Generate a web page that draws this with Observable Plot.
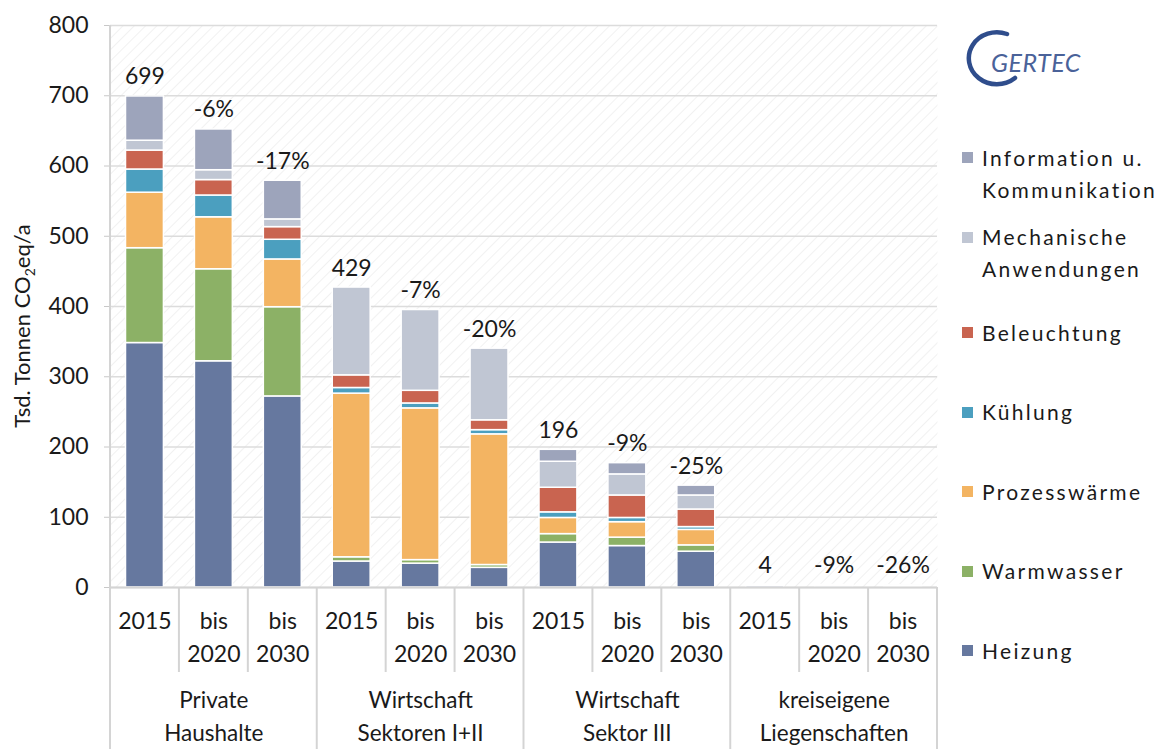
<!DOCTYPE html>
<html>
<head>
<meta charset="utf-8">
<script src="https://cdn.jsdelivr.net/npm/d3@7"></script>
<script src="https://cdn.jsdelivr.net/npm/@observablehq/plot@0.6"></script>
<style>
  body { margin: 0; background: #fff; font-family: Lato, "Noto Sans", sans-serif; color: #1a1a1a; }
  #wrap { position: relative; width: 1170px; height: 749px; overflow: hidden; }
  #legend { position: absolute; left: 962px; top: 134px; }
  .cell { height: 79.5px; display: flex; align-items: center; }
  .item { position: relative; padding-left: 20px; font-size: 21px; line-height: 32px; letter-spacing: 2.3px; white-space: pre-line; }
  .sw { position: absolute; left: 0; top: 10.5px; width: 11px; height: 11px; }
  #logo { position: absolute; left: 955px; top: 22px; }
</style>
</head>
<body>
<div id="wrap"></div>
<script>
// ---- data ----
const groups = ["Private\nHaushalte", "Wirtschaft\nSektoren I+II", "Wirtschaft\nSektor III", "kreiseigene\nLiegenschaften"];
const scenarios = ["2015", "bis\n2020", "bis\n2030"];
const seriesNames = ["Heizung", "Warmwasser", "Prozesswärme", "Kühlung", "Beleuchtung", "Mechanische Anwendungen", "Information u. Kommunikation"];
const legendLabels = ["Information u.\nKommunikation", "Mechanische\nAnwendungen", "Beleuchtung", "Kühlung", "Prozesswärme", "Warmwasser", "Heizung"];
const colors = ["#66789f", "#8cb166", "#f3b462", "#4b9fbf", "#c96450", "#c0c6d3", "#9da4bb"];

const heizung       = [348, 322, 272,  37,  34,  28, 64, 59, 51, 2.4, 2.2, 1.8];
const warmwasser    = [135, 131, 127,   6,   5,   4, 12, 12,  9, 0.3, 0.3, 0.2];
const prozesswaerme = [ 79,  74,  68, 233, 216, 186, 23, 22, 22, 0.1, 0.1, 0.1];
const kuehlung      = [ 33,  31,  28,   8,   7,   6,  8,  6,  4, 0.1, 0.1, 0.1];
const beleuchtung   = [ 27,  22,  18,  18,  18,  14, 35, 32, 25, 0.5, 0.4, 0.4];
const mechanisch    = [ 14,  14,  11, 125, 115, 102, 37, 30, 20, 0.3, 0.3, 0.2];
const information   = [ 63,  58,  55,   0,   0,   0, 17, 16, 14, 0.3, 0.2, 0.2];
const barLabels = ["699", "-6%", "-17%", "429", "-7%", "-20%", "196", "-9%", "-25%", "4", "-9%", "-26%"];
const yTicks = [0, 100, 200, 300, 400, 500, 600, 700, 800];

// ---- derived tables ----
const seriesValues = [heizung, warmwasser, prozesswaerme, kuehlung, beleuchtung, mechanisch, information];
const keys = [];
groups.forEach(g => scenarios.forEach(s => keys.push(g + "|" + s)));
const rows = [];
keys.forEach((k, i) => seriesValues.forEach((arr, j) => rows.push({key: k, series: seriesNames[j], value: arr[i]})));
const totals = keys.map((k, i) => ({key: k, total: d3.sum(seriesValues, arr => arr[i]), label: barLabels[i]}));
const scenRows = keys.map(k => ({key: k, lab: k.split("|")[1]}));
const groupRows = groups.map((g, i) => ({key: keys[i * 3 + 1], lab: g}));

const ink = "#1a1a1a";
const chart = Plot.plot({
  width: 1170, height: 749,
  marginTop: 25, marginBottom: 162, marginLeft: 110, marginRight: 233,
  style: {fontFamily: "Lato, 'Noto Sans', sans-serif", fontSize: "23px", color: ink, background: "transparent", overflow: "visible"},
  x: {type: "band", domain: keys, paddingInner: 0.45, paddingOuter: 0.225, round: false, axis: null},
  y: {domain: [0, 800], axis: null},
  color: {domain: seriesNames, range: colors},
  marks: [
    Plot.frame({fill: "url(#hatch)", stroke: null}),
    Plot.gridY(yTicks, {stroke: "#dcdcdc", strokeOpacity: 1, strokeWidth: 1.3}),
    Plot.barY(rows, {x: "key", y: "value", fill: "series", stroke: "white", strokeWidth: 1.5}),
    Plot.ruleY([0], {stroke: "#d4d4d4", strokeWidth: 2}),
    Plot.text(totals, {x: "key", y: "total", text: "label", dy: -12, lineAnchor: "bottom", fontSize: 23, fill: ink}),
    Plot.axisY(yTicks, {tickSize: 6, tickPadding: 16, fontSize: 23, stroke: "#c8c8c8", fill: ink, label: null}),
    Plot.text(scenRows, {x: "key", y: d => 0, text: "lab", lineAnchor: "top", dy: 19, lineHeight: 1.4, fontSize: 23, fill: ink}),
    Plot.text(groupRows, {x: "key", y: d => 0, text: "lab", lineAnchor: "top", dy: 97, lineHeight: 1.48, fontSize: 22.5, fill: ink, letterSpacing: "0.8px"})
  ]
});

// ---- decorations tied to the scales ----
const svg = d3.select(chart);
const pat = svg.insert("defs", ":first-child").append("pattern")
  .attr("id", "hatch").attr("patternUnits", "userSpaceOnUse")
  .attr("width", 8).attr("height", 8).attr("patternTransform", "rotate(45)");
pat.append("rect").attr("width", 8).attr("height", 8).attr("fill", "#ffffff");
pat.append("line").attr("x1", 0).attr("y1", 0).attr("x2", 0).attr("y2", 8).attr("stroke", "#f1f1f1").attr("stroke-width", 2);

const xs = chart.scale("x"), ys = chart.scale("y");
const half = xs.step / 2;
const y0 = ys.apply(0), yTop = ys.apply(800);
const sep = svg.append("g").attr("stroke", "#d4d4d4").attr("stroke-width", 2);
keys.forEach((k, i) => {
  const xl = xs.apply(k) + xs.bandwidth / 2 - half;
  sep.append("line").attr("x1", xl).attr("x2", xl).attr("y1", i === 0 ? yTop : y0).attr("y2", i % 3 === 0 ? 749 : 672);
});
const xr = xs.apply(keys[keys.length - 1]) + xs.bandwidth / 2 + half;
sep.append("line").attr("x1", xr).attr("x2", xr).attr("y1", y0).attr("y2", 749);

const yl = svg.append("text").attr("transform", `translate(30,${(y0 + yTop) / 2 + 20}) rotate(-90)`)
  .attr("text-anchor", "middle").attr("font-size", 22).attr("fill", ink).attr("font-family", "Lato, 'Noto Sans', sans-serif");
yl.append("tspan").text("Tsd. Tonnen CO");
yl.append("tspan").attr("font-size", 14).attr("dy", 5).text("2");
yl.append("tspan").attr("dy", -5).text("eq/a");

const wrap = document.getElementById("wrap");
wrap.appendChild(chart);

// ---- legend ----
const legend = document.createElement("div");
legend.id = "legend";
legendLabels.forEach((lab, i) => {
  const cell = document.createElement("div"); cell.className = "cell";
  const item = document.createElement("div"); item.className = "item"; item.textContent = lab;
  const sw = document.createElement("span"); sw.className = "sw";
  sw.style.background = colors[colors.length - 1 - i];
  item.appendChild(sw); cell.appendChild(item); legend.appendChild(cell);
});
wrap.appendChild(legend);

// ---- logo ----
const logo = document.createElement("div");
logo.id = "logo";
logo.innerHTML = `<svg width="140" height="70" viewBox="0 0 140 70">
  <path d="M52 12 A 28 26 0 1 0 60 56" fill="none" stroke="#2f4d8c" stroke-width="4.5" stroke-linecap="round"/>
  <text x="36" y="50" font-family="Lato, 'Open Sans', sans-serif" font-style="italic" font-size="25" fill="#4a6299" letter-spacing="0.5">GERTEC</text>
</svg>`;
wrap.appendChild(logo);
</script>
</body>
</html>
